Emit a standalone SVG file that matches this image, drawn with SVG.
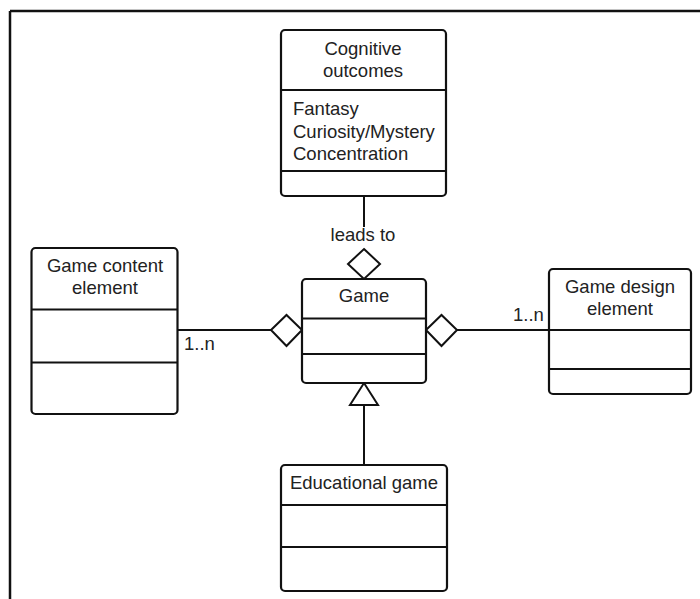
<svg xmlns="http://www.w3.org/2000/svg" width="700" height="599" viewBox="0 0 700 599">
<style>
.box{fill:#fff;stroke:#111;stroke-width:2.2}
.div{stroke:#111;stroke-width:2.2;fill:none}
.t{font-family:"Liberation Sans",Arial,sans-serif;font-size:18.5px;fill:#222}
.c{text-anchor:middle}
.con{stroke:#111;stroke-width:2;fill:none}
.dia{fill:#fff;stroke:#111;stroke-width:2}
</style>
<rect width="700" height="599" fill="#fff"/>
<g id="frame">
<line x1="10" y1="11" x2="700" y2="11" stroke="#111" stroke-width="2.5"/>
<line x1="10" y1="11" x2="10" y2="599" stroke="#111" stroke-width="2.5"/>
</g>
<g id="connectors">
<line class="con" x1="364" y1="196" x2="364" y2="227"/>
<text class="t c" x="363" y="241">leads to</text>
<polygon class="dia" points="364,249 380,264 364,279 348,264"/>
<line class="con" x1="178" y1="330" x2="271" y2="330"/>
<polygon class="dia" points="271,330 286.5,315 302,330 286.5,346"/>
<text class="t" x="184" y="350">1..n</text>
<line class="con" x1="457" y1="330" x2="549" y2="330"/>
<polygon class="dia" points="426,330 441.5,315 457,330 441.5,346"/>
<text class="t" x="513" y="321">1..n</text>
<line class="con" x1="364" y1="405" x2="364" y2="465"/>
<polygon class="dia" points="364,383 378,405 350,405"/>
</g>
<g id="cognitive">
<rect class="box" x="281" y="30" width="165" height="166" rx="4"/>
<line class="div" x1="281" y1="90" x2="446" y2="90"/>
<line class="div" x1="281" y1="171" x2="446" y2="171"/>
<text class="t c" x="363" y="55">Cognitive</text>
<text class="t c" x="363" y="77">outcomes</text>
<text class="t" x="293" y="115">Fantasy</text>
<text class="t" x="293" y="138">Curiosity/Mystery</text>
<text class="t" x="293" y="160">Concentration</text>
</g>
<g id="game">
<rect class="box" x="302" y="279" width="124" height="104" rx="4"/>
<line class="div" x1="302" y1="318.5" x2="426" y2="318.5"/>
<line class="div" x1="302" y1="354" x2="426" y2="354"/>
<text class="t c" x="364" y="302">Game</text>
</g>
<g id="content">
<rect class="box" x="31.5" y="248" width="146" height="166" rx="4"/>
<line class="div" x1="31.5" y1="309.5" x2="177.5" y2="309.5"/>
<line class="div" x1="31.5" y1="362.5" x2="177.5" y2="362.5"/>
<text class="t c" x="105" y="272">Game content</text>
<text class="t c" x="105" y="294">element</text>
</g>
<g id="design">
<rect class="box" x="549" y="269" width="142" height="125" rx="4"/>
<line class="div" x1="549" y1="330" x2="691" y2="330"/>
<line class="div" x1="549" y1="369" x2="691" y2="369"/>
<text class="t c" x="620" y="293">Game design</text>
<text class="t c" x="620" y="315">element</text>
</g>
<g id="educational">
<rect class="box" x="281" y="465" width="166" height="126" rx="4"/>
<line class="div" x1="281" y1="505" x2="447" y2="505"/>
<line class="div" x1="281" y1="547" x2="447" y2="547"/>
<text class="t c" x="364" y="489">Educational game</text>
</g>
</svg>
